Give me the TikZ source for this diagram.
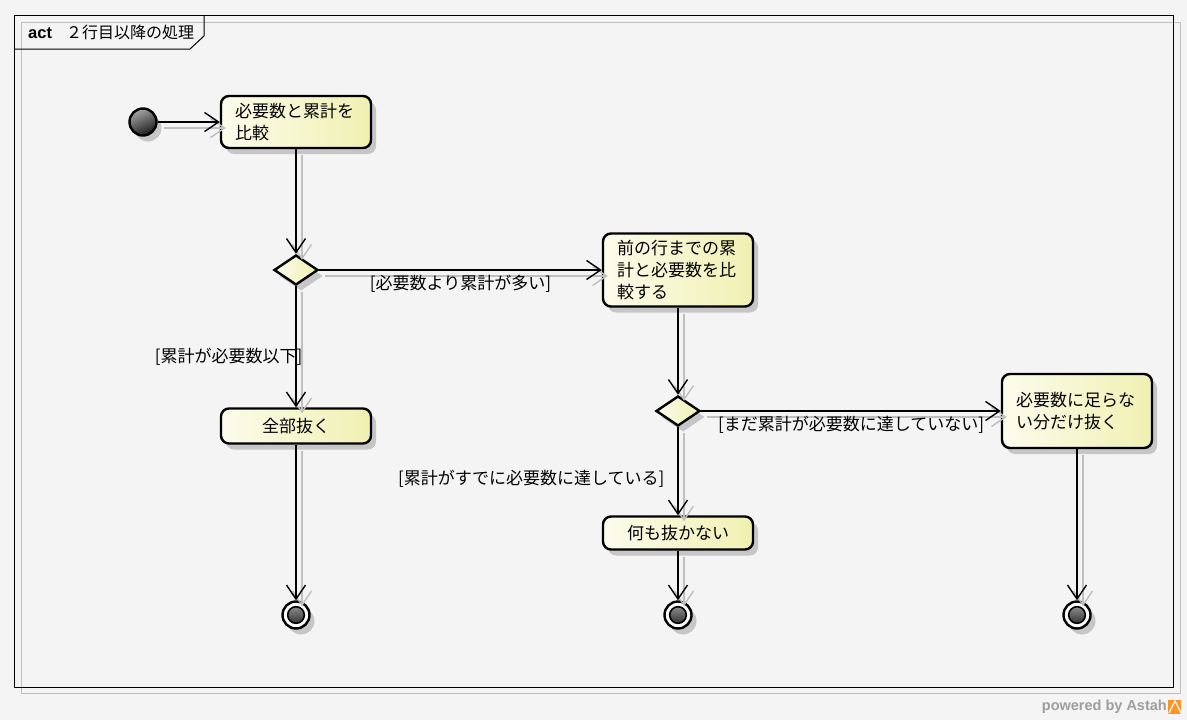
\documentclass[tikz,border=0pt]{standalone}
\usepackage{fontspec}
\setmainfont{Noto Sans CJK JP}
\newfontfamily\latb{Liberation Sans}
\usetikzlibrary{arrows.meta,shapes.geometric,shadows}
\definecolor{bg}{HTML}{F4F4F4}
\definecolor{ylL}{HTML}{FCFCEC}
\definecolor{ylR}{HTML}{F0F0B2}
\definecolor{shd}{HTML}{C6C6C6}
\begin{document}
\begin{tikzpicture}[x=1pt,y=-1pt,
  every node/.style={font=\fontsize{17}{22}\selectfont},
  nshadow/.style={drop shadow={shadow xshift=5pt,shadow yshift=-6pt,fill=shd,opacity=1}},
  actbox/.style={draw, line width=2.4pt, rounded corners=8pt, left color=ylL, right color=ylR,
     minimum width=150pt, inner xsep=14pt, inner ysep=2pt, nshadow},
  actleft/.style={actbox, text width=122pt, align=left},
  actctr/.style={actbox, text width=122pt, align=center},
  decision/.style={diamond, draw, line width=2.4pt, left color=ylL, right color=ylR,
     minimum width=44pt, minimum height=30pt, inner sep=0pt, aspect=1.47, nshadow},
  initial/.style={circle, draw, line width=2.4pt, minimum size=27pt, inner sep=0pt,
     top color=black!35, bottom color=black!90, shading angle=25, nshadow},
  final/.style={circle, draw, line width=2.4pt, minimum size=27pt, inner sep=0pt, fill=white, nshadow,
     path picture={\draw[line width=1.6pt, top color=black!35, bottom color=black!90]
        (path picture bounding box.center) circle (8.3pt);}},
  tipA/.tip={Straight Barb[length=14pt,width=19pt,line width=1.4pt]},
  arr/.style={line width=1.4pt, -tipA},
  esh/.style={draw=black!25, line width=1.4pt, -tipA},
  sh/.style={xshift=6pt,yshift=-6pt},
  lbl/.style={inner sep=2pt, fill=none}
]
\useasboundingbox (0,0) rectangle (1187,720);
\fill[bg] (0,0) rectangle (1187,720);
% frame
\draw[black!25, line width=1pt] (21,22) rectangle (1180,693);
\draw[black, line width=1pt] (14,15) rectangle (1173,687);
\draw[black, line width=1pt] (14,49) -- (190,49) -- (204,36) -- (204,15);
\node[anchor=west, inner sep=0pt] (title) at (28,32)
  {\fontsize{16}{18}\selectfont{\latb\bfseries\fontsize{16.5}{18}\selectfont act}\hspace{14pt}２行目以降の処理};

% nodes
\node[initial] (init) at (143,122) {};
\node[actleft, minimum height=52pt] (a1) at (296,122) {必要数と累計を\\比較};
\node[decision] (d1) at (296,270) {};
\node[actleft, minimum height=73pt] (a2) at (678,270) {前の行までの累\\計と必要数を比\\較する};
\node[actctr, minimum height=35pt] (a3) at (296,426) {全部抜く};
\node[decision] (d2) at (678,411) {};
\node[actleft, minimum height=74pt] (a4) at (1077,411) {必要数に足らな\\い分だけ抜く};
\node[actctr, minimum height=33pt] (a5) at (678,533) {何も抜かない};
\node[final] (f1) at (296,615) {};
\node[final] (f2) at (678,615) {};
\node[final] (f3) at (1077,615) {};

% edge shadows
\draw[esh] ([sh]init.east) -- ([sh]a1.west);
\draw[esh] ([sh]a1.south) -- ([sh]d1.north);
\draw[esh] ([sh]d1.east) -- ([sh]a2.west);
\draw[esh] ([sh]d1.south) -- ([sh]a3.north);
\draw[esh] ([sh]a3.south) -- ([sh]f1.north);
\draw[esh] ([sh]a2.south) -- ([sh]d2.north);
\draw[esh] ([sh]d2.east) -- ([sh]a4.west);
\draw[esh] ([sh]d2.south) -- ([sh]a5.north);
\draw[esh] ([sh]a5.south) -- ([sh]f2.north);
\draw[esh] ([sh]a4.south) -- ([sh]f3.north);

% edges
\draw[arr] (init.east) -- (a1.west);
\draw[arr] (a1.south) -- (d1.north);
\draw[arr] (d1.east) -- node[lbl, midway, below, yshift=-2pt] (l1) {[必要数より累計が多い]} (a2.west);
\draw[arr] (d1.south) -- node[lbl, pos=0.585, anchor=east, xshift=9pt] (l2) {[累計が必要数以下]} (a3.north);
\draw[arr] (a3.south) -- (f1.north);
\draw[arr] (a2.south) -- (d2.north);
\draw[arr] (d2.east) -- node[lbl, midway, below, yshift=-2pt] (l3) {[まだ累計が必要数に達していない]} (a4.west);
\draw[arr] (d2.south) -- node[lbl, pos=0.58, anchor=east, xshift=-11pt] (l4) {[累計がすでに必要数に達している]} (a5.north);
\draw[arr] (a5.south) -- (f2.north);
\draw[arr] (a4.south) -- (f3.north);

% footer
\node[anchor=east, inner sep=0pt, text=black!38] (pw) at (1167,707)
  {\latb\bfseries\fontsize{14.5}{16}\selectfont powered by Astah};
\fill[orange!85] (1168,700) rectangle (1181,714);
\draw[white, line width=1.2pt] (1169,713) -- (1175,701) -- (1181,713);
\end{tikzpicture}
\end{document}
